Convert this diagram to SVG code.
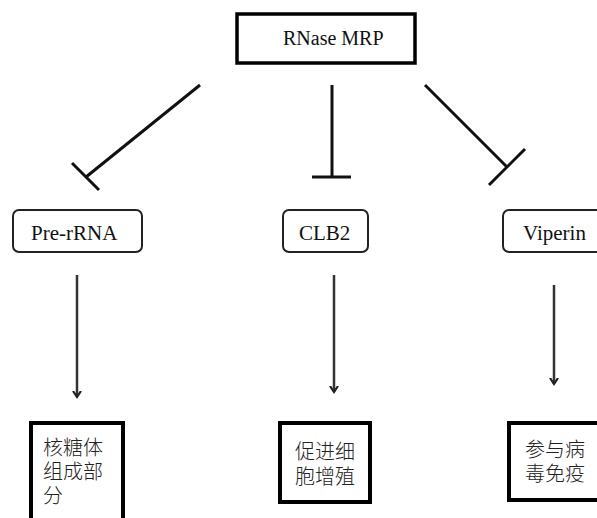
<svg xmlns="http://www.w3.org/2000/svg" width="597" height="518" viewBox="0 0 597 518">
<style>
.en{font-family:"Liberation Serif","Times New Roman","DejaVu Serif",serif;font-size:21px;fill:#111}
.zh{font-family:"Liberation Sans","Noto Sans CJK SC",sans-serif;font-size:20px;font-weight:300;fill:#222}
.top{fill:#fff;stroke:#000;stroke-width:3.5}
.mid{fill:#fff;stroke:#222;stroke-width:2}
.bot{fill:#fff;stroke:#000;stroke-width:4}
.inh{stroke:#111;stroke-width:3;fill:none}
.act{stroke:#333;stroke-width:2.5;fill:none}
</style>
<defs>
<marker id="arr" markerWidth="10" markerHeight="10" refX="6" refY="5" orient="auto" markerUnits="userSpaceOnUse">
<path d="M0,1 L6,5 L0,9" fill="none" stroke="#222" stroke-width="2.2"/>
</marker>
</defs>
<g id="rnase-mrp">
<rect class="top" x="237" y="14" width="178" height="49"/>
<text class="en" x="283" y="45" style="font-size:20px">RNase MRP</text>
</g>
<g id="pre-rrna">
<rect class="mid" x="13" y="210" width="129" height="42" rx="6"/>
<text class="en" x="31" y="240">Pre-rRNA</text>
</g>
<g id="clb2">
<rect class="mid" x="283" y="210" width="85" height="42" rx="6"/>
<text class="en" x="299" y="240">CLB2</text>
</g>
<g id="viperin">
<rect class="mid" x="503" y="210" width="110" height="42" rx="6"/>
<text class="en" x="523" y="240">Viperin</text>
</g>
<g id="ribosome">
<rect class="bot" x="31" y="423" width="92" height="110"/>
<text class="zh" x="43" y="455">核糖体<tspan x="43" dy="24">组成部</tspan><tspan x="43" dy="24">分</tspan></text>
</g>
<g id="proliferation">
<rect class="bot" x="280" y="423" width="90" height="79"/>
<text class="zh" x="295" y="459">促进细<tspan x="295" dy="25">胞增殖</tspan></text>
</g>
<g id="immunity">
<rect class="bot" x="509" y="423" width="100" height="77"/>
<text class="zh" x="525" y="457">参与病<tspan x="525" dy="24">毒免疫</tspan></text>
</g>
<g id="connectors">
<line class="inh" x1="200" y1="85" x2="86" y2="177"/>
<line class="inh" x1="72" y1="163" x2="99" y2="190"/>
<line class="inh" x1="332" y1="85" x2="332" y2="177"/>
<line class="inh" x1="312" y1="177" x2="351" y2="177"/>
<line class="inh" x1="425" y1="85" x2="507" y2="167"/>
<line class="inh" x1="525" y1="149" x2="489" y2="185"/>
<line class="act" x1="77" y1="275" x2="77" y2="397" marker-end="url(#arr)"/>
<line class="act" x1="334" y1="275" x2="334" y2="392" marker-end="url(#arr)"/>
<line class="act" x1="554" y1="285" x2="554" y2="384" marker-end="url(#arr)"/>
</g>
</svg>
